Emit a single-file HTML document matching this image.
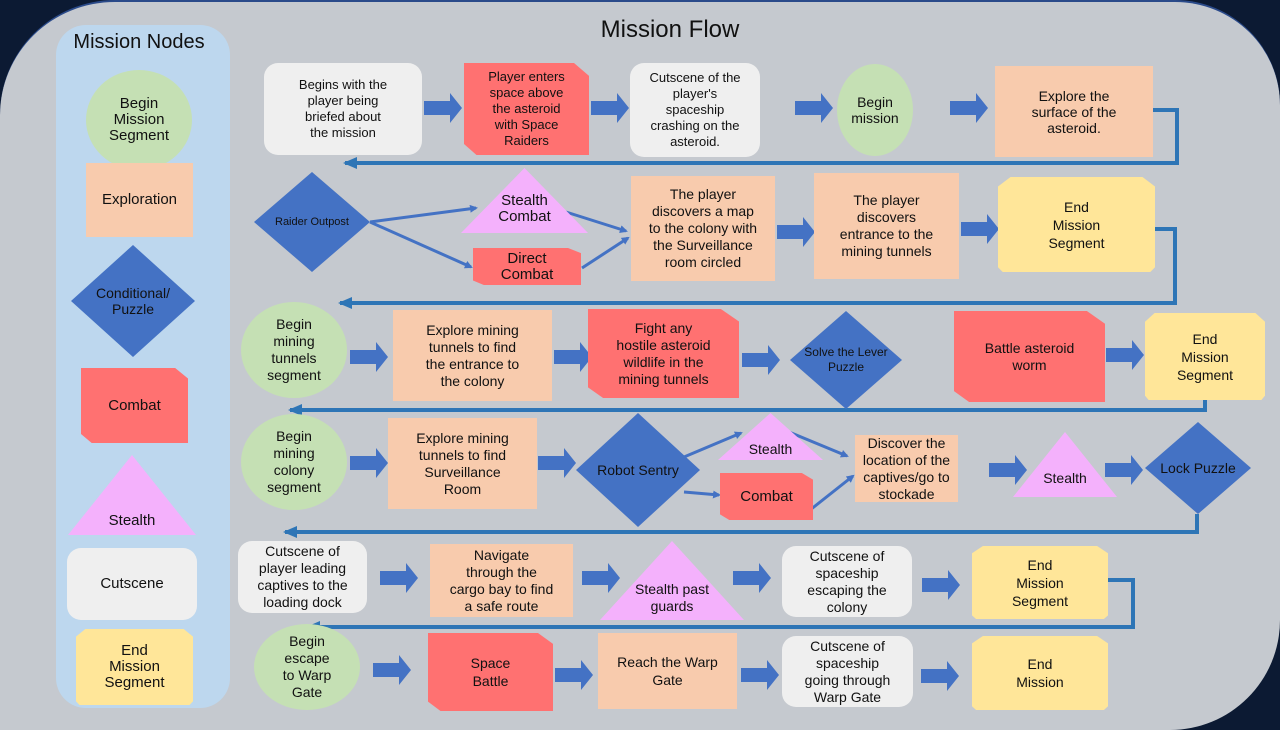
<!DOCTYPE html>
<html><head><meta charset="utf-8"><style>
*{margin:0;padding:0;box-sizing:border-box}
body{width:1280px;height:720px;overflow:hidden;background:#0c1a33;font-family:"Liberation Sans",sans-serif;position:relative}
#panel{position:absolute;left:0;top:0;width:1280px;height:730px;background:#c5c9cf;border-radius:115px 105px 110px 0;border-top:2px solid #2a4a8a}
.b{position:absolute;display:flex;align-items:center;justify-content:center;text-align:center;font-size:14px;line-height:16px;color:#111}
.g{background:#c5e0b4;border-radius:50%}
.o{background:#f8cbad}
.r{background:#ff7171;clip-path:polygon(0 0,88% 0,100% 14%,100% 100%,10% 100%,0 88%)}
.c{background:#efefef;border-radius:14px}
.y{background:#ffe699;clip-path:polygon(8% 0,92% 0,100% 10%,100% 95%,97% 100%,3% 100%,0 95%,0 10%)}
.d{background:#4472c4;clip-path:polygon(50% 0,100% 50%,50% 100%,0 50%)}
.t{background:#f4b1fc;clip-path:polygon(50% 0,100% 100%,0 100%);align-items:flex-end;padding-bottom:6px}
svg{position:absolute;left:0;top:0}
</style></head><body>
<div id="panel"></div>
<div style="position:absolute;left:56px;top:25px;width:174px;height:683px;background:#bdd7ee;border-radius:30px"></div>
<div class="b" style="left:56px;top:28px;width:166px;height:28px;font-size:20px">Mission Nodes</div>
<div class="b" style="left:600px;top:14px;width:140px;height:32px;font-size:24px">Mission Flow</div>

<svg width="1280" height="720" viewBox="0 0 1280 720">
<defs><marker id="ah" markerWidth="8" markerHeight="8" refX="6" refY="4" orient="auto" markerUnits="userSpaceOnUse"><path d="M0,0L8,4L0,8z" fill="#4472c4"/></marker>
<marker id="ah2" markerWidth="14" markerHeight="12" refX="12" refY="6" orient="auto" markerUnits="userSpaceOnUse"><path d="M0,0L14,6L0,12z" fill="#2e75b6"/></marker></defs>
<g fill="#4472c4">
<path id="a" d="M0,-7H26V-15L38,0L26,15V7H0Z" transform="translate(424,108)"/>
<use href="#a" transform="translate(167,0)"/>
<use href="#a" transform="translate(371,0)"/>
<use href="#a" transform="translate(526,0)"/>
<use href="#a" transform="translate(353,124)"/>
<use href="#a" transform="translate(537,121)"/>
<use href="#a" transform="translate(-74,249)"/>
<use href="#a" transform="translate(130,249)"/>
<use href="#a" transform="translate(318,252)"/>
<use href="#a" transform="translate(682,247)"/>
<use href="#a" transform="translate(-74,355)"/>
<use href="#a" transform="translate(114,355)"/>
<use href="#a" transform="translate(565,362)"/>
<use href="#a" transform="translate(681,362)"/>
<use href="#a" transform="translate(-44,470)"/>
<use href="#a" transform="translate(158,470)"/>
<use href="#a" transform="translate(309,470)"/>
<use href="#a" transform="translate(498,477)"/>
<use href="#a" transform="translate(-51,562)"/>
<use href="#a" transform="translate(131,567)"/>
<use href="#a" transform="translate(317,567)"/>
<use href="#a" transform="translate(497,568)"/>
</g>
<g stroke="#2e75b6" stroke-width="4" fill="none">
<path d="M1153,110H1177V163H345" marker-end="url(#ah2)"/>
<path d="M1155,229H1175V303H340" marker-end="url(#ah2)"/>
<path d="M1205,400V410H290" marker-end="url(#ah2)"/>
<path d="M1197,514V532H285" marker-end="url(#ah2)"/>
<path d="M1108,580H1133V627H308" marker-end="url(#ah2)"/>
</g>
<g stroke="#4472c4" stroke-width="3" fill="none">
<path d="M370,222L476,208" marker-end="url(#ah)"/>
<path d="M370,222L471,267" marker-end="url(#ah)"/>
<path d="M566,212L626,231" marker-end="url(#ah)"/>
<path d="M582,268L628,238" marker-end="url(#ah)"/>
<path d="M684,457L741,433" marker-end="url(#ah)"/>
<path d="M684,492L719,495" marker-end="url(#ah)"/>
<path d="M789,432L847,456" marker-end="url(#ah)"/>
<path d="M810,510L853,476" marker-end="url(#ah)"/>
</g>
</svg>

<div class="b g" style="left:86px;top:70px;width:106px;height:100px;font-size:15px">Begin<br>Mission<br>Segment</div>
<div class="b o" style="left:86px;top:163px;width:107px;height:74px;font-size:15px">Exploration</div>
<div class="b d" style="left:71px;top:245px;width:124px;height:112px;font-size:14px">Conditional/<br>Puzzle</div>
<div class="b r" style="left:81px;top:368px;width:107px;height:75px;font-size:15px">Combat</div>
<div class="b t" style="left:68px;top:455px;width:128px;height:80px;font-size:15px">Stealth</div>
<div class="b c" style="left:67px;top:548px;width:130px;height:72px;font-size:15px">Cutscene</div>
<div class="b y" style="left:76px;top:629px;width:117px;height:76px;font-size:15px">End<br>Mission<br>Segment</div>

<div class="b c" style="left:264px;top:63px;width:158px;height:92px;font-size:13px">Begins with the<br>player being<br>briefed about<br>the mission</div>
<div class="b r" style="left:464px;top:63px;width:125px;height:92px;font-size:13px">Player enters<br>space above<br>the asteroid<br>with Space<br>Raiders</div>
<div class="b c" style="left:630px;top:63px;width:130px;height:94px;font-size:13px">Cutscene of the<br>player's<br>spaceship<br>crashing on the<br>asteroid.</div>
<div class="b g" style="left:837px;top:64px;width:76px;height:92px;font-size:14px">Begin<br>mission</div>
<div class="b o" style="left:995px;top:66px;width:158px;height:91px;font-size:14px">Explore the<br>surface of the<br>asteroid.</div>

<div class="b d" style="left:254px;top:172px;width:116px;height:100px;font-size:11px">Raider Outpost</div>
<div class="b t" style="left:461px;top:168px;width:127px;height:65px;font-size:15px;padding-bottom:8px">Stealth<br>Combat</div>
<div class="b r" style="left:473px;top:248px;width:108px;height:37px;font-size:15px">Direct<br>Combat</div>
<div class="b o" style="left:631px;top:176px;width:144px;height:105px;font-size:14px;line-height:17px">The player<br>discovers a map<br>to the colony with<br>the Surveillance<br>room circled</div>
<div class="b o" style="left:814px;top:173px;width:145px;height:106px;font-size:14px;line-height:17px">The player<br>discovers<br>entrance to the<br>mining tunnels</div>
<div class="b y" style="left:998px;top:177px;width:157px;height:95px;font-size:14px;line-height:18px">End<br>Mission<br>Segment</div>

<div class="b g" style="left:241px;top:302px;width:106px;height:96px;font-size:14px;line-height:17px">Begin<br>mining<br>tunnels<br>segment</div>
<div class="b o" style="left:393px;top:310px;width:159px;height:91px;font-size:14px;line-height:17px">Explore mining<br>tunnels to find<br>the entrance to<br>the colony</div>
<div class="b r" style="left:588px;top:309px;width:151px;height:89px;font-size:14px;line-height:17px">Fight any<br>hostile asteroid<br>wildlife in the<br>mining tunnels</div>
<div class="b d" style="left:790px;top:311px;width:112px;height:98px;font-size:12px;line-height:15px">Solve the Lever<br>Puzzle</div>
<div class="b r" style="left:954px;top:311px;width:151px;height:91px;font-size:14px;line-height:17px">Battle asteroid<br>worm</div>
<div class="b y" style="left:1145px;top:313px;width:120px;height:87px;font-size:14px;line-height:18px">End<br>Mission<br>Segment</div>

<div class="b g" style="left:241px;top:414px;width:106px;height:96px;font-size:14px;line-height:17px">Begin<br>mining<br>colony<br>segment</div>
<div class="b o" style="left:388px;top:418px;width:149px;height:91px;font-size:14px;line-height:17px">Explore mining<br>tunnels to find<br>Surveillance<br>Room</div>
<div class="b d" style="left:576px;top:413px;width:124px;height:114px;font-size:14px">Robot Sentry</div>
<div class="b t" style="left:718px;top:413px;width:105px;height:47px;font-size:14px;padding-bottom:3px">Stealth</div>
<div class="b r" style="left:720px;top:473px;width:93px;height:47px;font-size:15px">Combat</div>
<div class="b o" style="left:855px;top:435px;width:103px;height:67px;font-size:14px;line-height:17px">Discover the<br>location of the<br>captives/go to<br>stockade</div>
<div class="b t" style="left:1013px;top:432px;width:104px;height:65px;font-size:14px;padding-bottom:11px">Stealth</div>
<div class="b d" style="left:1145px;top:422px;width:106px;height:92px;font-size:14px">Lock Puzzle</div>

<div class="b c" style="left:238px;top:541px;width:129px;height:72px;font-size:14px;line-height:17px">Cutscene of<br>player leading<br>captives to the<br>loading dock</div>
<div class="b o" style="left:430px;top:544px;width:143px;height:73px;font-size:14px;line-height:17px">Navigate<br>through the<br>cargo bay to find<br>a safe route</div>
<div class="b t" style="left:600px;top:541px;width:144px;height:79px;font-size:14px;line-height:17px;padding-bottom:5px">Stealth past<br>guards</div>
<div class="b c" style="left:782px;top:546px;width:130px;height:71px;font-size:14px;line-height:17px">Cutscene of<br>spaceship<br>escaping the<br>colony</div>
<div class="b y" style="left:972px;top:546px;width:136px;height:73px;font-size:14px;line-height:18px">End<br>Mission<br>Segment</div>

<div class="b g" style="left:254px;top:624px;width:106px;height:86px;font-size:14px;line-height:17px">Begin<br>escape<br>to Warp<br>Gate</div>
<div class="b r" style="left:428px;top:633px;width:125px;height:78px;font-size:14px;line-height:18px">Space<br>Battle</div>
<div class="b o" style="left:598px;top:633px;width:139px;height:76px;font-size:14px;line-height:18px">Reach the Warp<br>Gate</div>
<div class="b c" style="left:782px;top:636px;width:131px;height:71px;font-size:14px;line-height:17px">Cutscene of<br>spaceship<br>going through<br>Warp Gate</div>
<div class="b y" style="left:972px;top:636px;width:136px;height:74px;font-size:14px;line-height:18px">End<br>Mission</div>
</body></html>
